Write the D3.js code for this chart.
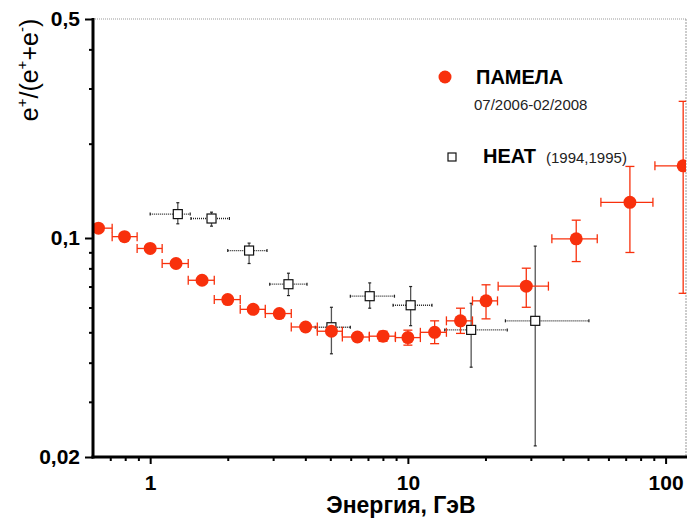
<!DOCTYPE html>
<html>
<head>
<meta charset="utf-8">
<script src="https://cdn.jsdelivr.net/npm/d3@7"></script>
<style>
  body { margin: 0; background: #fff; }
  svg { font-family: "Liberation Sans", Arial, sans-serif; }
</style>
</head>
<body>
<script>
// PAMELA 07/2006-02/2008 : energy (GeV), ratio, bin edges, ratio errors
var pamE    = [0.63, 0.795, 1.0, 1.26, 1.59, 2.0, 2.51, 3.17, 4.01, 5.05, 6.37, 8.01, 10.0, 12.7, 16.0, 20.1, 28.8, 45.0, 72.7, 117];
var pamR    = [0.1075, 0.101, 0.0926, 0.0829, 0.0733, 0.0636, 0.0592, 0.0574, 0.0520, 0.0504, 0.0483, 0.0486, 0.0481, 0.0500, 0.0544, 0.0630, 0.0702, 0.0994, 0.130, 0.170];
var pamELo  = [0.56, 0.712, 0.890, 1.113, 1.405, 1.773, 2.236, 2.797, 3.528, 4.452, 5.568, 7.088, 8.945, 11.18, 14.11, 17.81, 22.4, 36.2, 56.1, 90.9];
var pamEHi  = [0.712, 0.890, 1.113, 1.405, 1.773, 2.236, 2.797, 3.528, 4.452, 5.568, 7.088, 8.945, 11.18, 14.11, 17.81, 22.27, 35.1, 54.3, 89.3, 150];
var pamRLo  = [0.105, 0.0988, 0.0906, 0.0811, 0.0717, 0.0622, 0.0579, 0.0561, 0.0508, 0.0490, 0.0469, 0.0468, 0.0455, 0.0460, 0.0496, 0.0552, 0.0601, 0.0841, 0.0899, 0.0666];
var pamRHi  = [0.110, 0.1033, 0.0946, 0.0847, 0.0749, 0.0650, 0.0605, 0.0587, 0.0532, 0.0518, 0.0497, 0.0504, 0.0508, 0.0544, 0.0597, 0.0709, 0.0801, 0.1140, 0.1692, 0.273];

// HEAT (1994,1995)
var heatE   = [1.28, 1.73, 2.42, 3.44, 5.05, 7.11, 10.25, 17.6, 31.2];
var heatR   = [0.1192, 0.1154, 0.0912, 0.0712, 0.0519, 0.0652, 0.0610, 0.0509, 0.0544];
var heatELo = [1.0, 1.44, 2.0, 2.91, 4.37, 5.98, 8.76, 13.9, 23.9];
var heatEHi = [1.43, 2.03, 2.84, 4.06, 5.98, 8.87, 12.4, 24.3, 50.4];
var heatRLo = [0.1110, 0.1091, 0.0829, 0.0655, 0.0427, 0.0597, 0.0525, 0.0387, 0.0217];
var heatRHi = [0.1296, 0.1209, 0.0963, 0.0772, 0.0601, 0.0719, 0.0700, 0.0619, 0.0942];

// axis ticks
var xMajor = [1, 10, 100];
var xMajorLabels = ["1", "10", "100"];
var xMinor = [0.7, 0.8, 0.9, 2, 3, 4, 5, 6, 7, 8, 9, 20, 30, 40, 50, 60, 70, 80, 90];
var yMajor = [0.02, 0.1, 0.5];
var yMajorLabels = ["0,02", "0,1", "0,5"];
var yMinor = [0.03, 0.04, 0.05, 0.06, 0.07, 0.08, 0.09, 0.2, 0.3, 0.4];

var w = 691, h = 520;
var pLeft = 93, pRight = 686, pTop = 19, pBottom = 457;
var red = "#f8300c";

var svg = d3.select("body").append("svg")
    .attr("width", w)
    .attr("height", h);

var x = d3.scaleLog().domain([0.6, 120]).range([pLeft, pRight]);
var y = d3.scaleLog().domain([0.02, 0.5]).range([pBottom, pTop]);

svg.append("defs").append("clipPath").attr("id", "plot")
    .append("rect")
    .attr("x", pLeft).attr("y", pTop)
    .attr("width", pRight - pLeft).attr("height", pBottom - pTop);

// frame top/right (dotted grey)
svg.append("line")
    .attr("x1", pLeft).attr("x2", pRight).attr("y1", pTop).attr("y2", pTop)
    .attr("stroke", "#999").attr("stroke-width", 1).attr("stroke-dasharray", "1,1");
svg.append("line")
    .attr("x1", pRight).attr("x2", pRight).attr("y1", pTop).attr("y2", pBottom)
    .attr("stroke", "#999").attr("stroke-width", 1).attr("stroke-dasharray", "2,1");

var plot = svg.append("g").attr("clip-path", "url(#plot)");

// HEAT error bars
var heat = heatE.map(function(e, i) {
    return {e: e, r: heatR[i], eLo: heatELo[i], eHi: heatEHi[i], rLo: heatRLo[i], rHi: heatRHi[i]};
});
var hg = plot.append("g");
heat.forEach(function(d) {
    var cx = x(d.e), cy = y(d.r);
    hg.append("line")
        .attr("x1", x(d.eLo)).attr("x2", x(d.eHi)).attr("y1", cy).attr("y2", cy)
        .attr("stroke", "#222").attr("stroke-width", 1.3).attr("stroke-dasharray", "1,1");
    hg.append("line")
        .attr("x1", cx).attr("x2", cx).attr("y1", y(d.rHi)).attr("y2", y(d.rLo))
        .attr("stroke", "#555").attr("stroke-width", 1.3);
    [x(d.eLo), x(d.eHi)].forEach(function(px) {
        hg.append("line").attr("x1", px).attr("x2", px).attr("y1", cy - 1.5).attr("y2", cy + 1.5)
            .attr("stroke", "#222").attr("stroke-width", 1.2);
    });
    [y(d.rLo), y(d.rHi)].forEach(function(py) {
        hg.append("line").attr("x1", cx - 1.5).attr("x2", cx + 1.5).attr("y1", py).attr("y2", py)
            .attr("stroke", "#222").attr("stroke-width", 1.2);
    });
});
hg.selectAll("rect.heat")
    .data(heat)
    .enter()
    .append("rect")
    .attr("class", "heat")
    .attr("x", function(d) { return x(d.e) - 4.5; })
    .attr("y", function(d) { return y(d.r) - 4.5; })
    .attr("width", 9).attr("height", 9)
    .attr("fill", "#fff").attr("stroke", "#111").attr("stroke-width", 1.2);

// PAMELA error bars + points
var pam = pamE.map(function(e, i) {
    return {e: e, r: pamR[i], eLo: pamELo[i], eHi: pamEHi[i], rLo: pamRLo[i], rHi: pamRHi[i]};
});
var pg = plot.append("g");
pam.forEach(function(d) {
    var cx = x(d.e), cy = y(d.r);
    pg.append("line")
        .attr("x1", x(d.eLo)).attr("x2", x(d.eHi)).attr("y1", cy).attr("y2", cy)
        .attr("stroke", red).attr("stroke-width", 1.3);
    pg.append("line")
        .attr("x1", cx).attr("x2", cx).attr("y1", y(d.rHi)).attr("y2", y(d.rLo))
        .attr("stroke", red).attr("stroke-width", 1.3);
    [x(d.eLo), x(d.eHi)].forEach(function(px) {
        pg.append("line").attr("x1", px).attr("x2", px).attr("y1", cy - 4.5).attr("y2", cy + 4.5)
            .attr("stroke", red).attr("stroke-width", 1.3);
    });
    [y(d.rLo), y(d.rHi)].forEach(function(py) {
        pg.append("line").attr("x1", cx - 4.5).attr("x2", cx + 4.5).attr("y1", py).attr("y2", py)
            .attr("stroke", red).attr("stroke-width", 1.3);
    });
});
pg.selectAll("circle")
    .data(pam)
    .enter()
    .append("circle")
    .attr("cx", function(d) { return x(d.e); })
    .attr("cy", function(d) { return y(d.r); })
    .attr("r", 6.5)
    .attr("fill", red);

// axes
function styleAxis(g) {
    g.select(".domain").remove();
    g.selectAll("line").attr("stroke", "#000").attr("stroke-width", 2);
    g.selectAll("text").attr("fill", "#000").attr("font-weight", "bold").attr("font-size", "21px");
}

svg.append("g")
    .attr("transform", "translate(0," + pBottom + ")")
    .call(d3.axisBottom(x).tickValues(xMinor).tickSize(4).tickFormat(""))
    .call(styleAxis);
svg.append("g")
    .attr("transform", "translate(0," + pBottom + ")")
    .call(d3.axisBottom(x).tickValues(xMajor).tickSize(7).tickPadding(11)
        .tickFormat(function(d, i) { return xMajorLabels[i]; }))
    .call(styleAxis);

svg.append("g")
    .attr("transform", "translate(" + pLeft + ",0)")
    .call(d3.axisLeft(y).tickValues(yMinor).tickSize(4).tickFormat(""))
    .call(styleAxis);
svg.append("g")
    .attr("transform", "translate(" + pLeft + ",0)")
    .call(d3.axisLeft(y).tickValues(yMajor).tickSize(8).tickPadding(5)
        .tickFormat(function(d, i) { return yMajorLabels[i]; }))
    .call(styleAxis);

// axis lines
svg.append("line")
    .attr("x1", pLeft).attr("x2", pLeft).attr("y1", pTop - 1).attr("y2", pBottom + 1.5)
    .attr("stroke", "#000").attr("stroke-width", 3);
svg.append("line")
    .attr("x1", pLeft - 1.5).attr("x2", pRight + 1).attr("y1", pBottom).attr("y2", pBottom)
    .attr("stroke", "#000").attr("stroke-width", 3);

// axis titles
svg.append("text")
    .attr("x", 401).attr("y", 513)
    .attr("text-anchor", "middle")
    .attr("font-size", "23px").attr("font-weight", "bold")
    .text("Энергия, ГэВ");

var yl = svg.append("text")
    .attr("transform", "translate(38,70) rotate(-90)")
    .attr("text-anchor", "middle")
    .attr("font-size", "25px");
yl.append("tspan").text("e");
yl.append("tspan").attr("font-size", "15px").attr("dy", -11).text("+");
yl.append("tspan").attr("dy", 11).text("/(e");
yl.append("tspan").attr("font-size", "15px").attr("dy", -11).text("+");
yl.append("tspan").attr("dy", 11).text("+e");
yl.append("tspan").attr("font-size", "15px").attr("dy", -11).text("-");
yl.append("tspan").attr("dy", 11).text(")");

// legend
svg.append("circle").attr("cx", 445).attr("cy", 77).attr("r", 6.5).attr("fill", red);
svg.append("text").attr("x", 476).attr("y", 84)
    .attr("font-size", "20px").attr("font-weight", "bold").text("ПАМЕЛА");
svg.append("text").attr("x", 474).attr("y", 110)
    .attr("font-size", "15px").attr("fill", "#222").text("07/2006-02/2008");

svg.append("rect").attr("x", 448).attr("y", 153).attr("width", 8).attr("height", 8)
    .attr("fill", "#fff").attr("stroke", "#111").attr("stroke-width", 1.2);
svg.append("text").attr("x", 483).attr("y", 163)
    .attr("font-size", "20px").attr("font-weight", "bold").text("HEAT");
svg.append("text").attr("x", 546).attr("y", 163)
    .attr("font-size", "15px").attr("fill", "#222").text("(1994,1995)");
</script>
</body>
</html>
